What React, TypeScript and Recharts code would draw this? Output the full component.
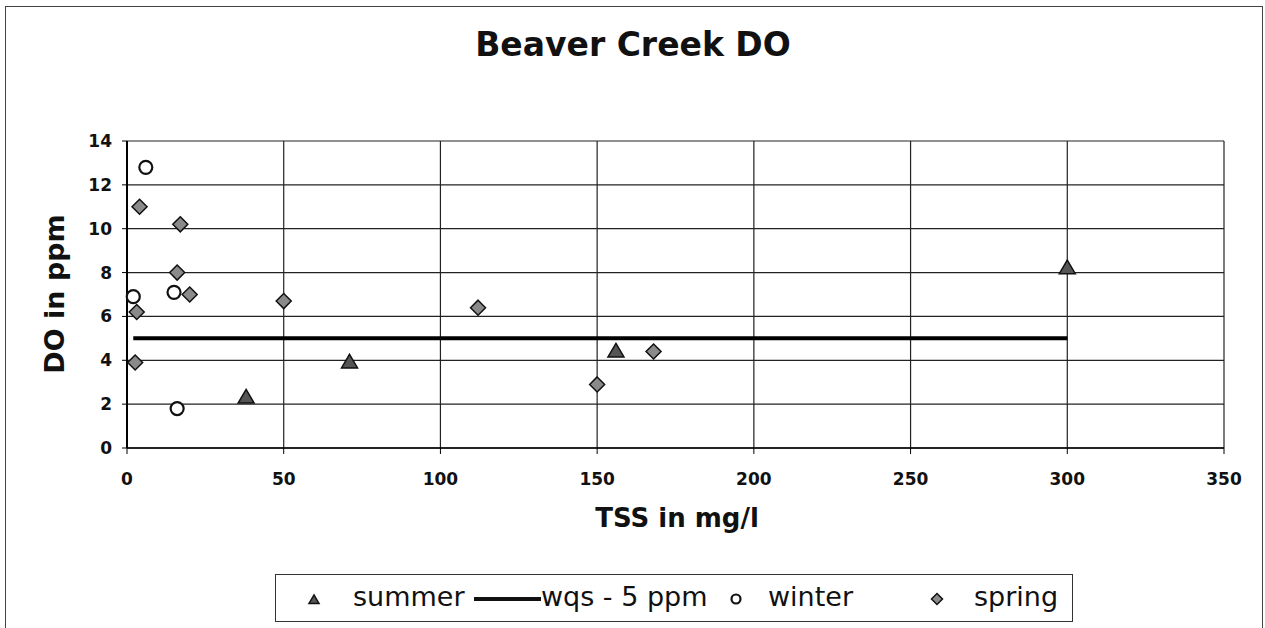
import {
  CartesianGrid,
  Legend,
  Scatter,
  ScatterChart,
  XAxis,
  YAxis,
} from "recharts";

const summerTss = [38, 71, 156, 300];
const summerDo = [2.3, 3.9, 4.4, 8.2];

const winterTss = [2, 6, 15, 16];
const winterDo = [6.9, 12.8, 7.1, 1.8];

const springTss = [4, 17, 16, 20, 3.1, 2.6, 50, 112, 150, 168];
const springDo = [11, 10.2, 8, 7, 6.2, 3.9, 6.7, 6.4, 2.9, 4.4];

const wqsTss = [2, 300];
const wqsDo = [5, 5];

const xTicks = [0, 50, 100, 150, 200, 250, 300, 350];
const yTicks = [0, 2, 4, 6, 8, 10, 12, 14];

const toPoints = (xs: number[], ys: number[]) =>
  xs.map((x, i) => ({ tss: x, do: ys[i] }));

const FONT = "'DejaVu Sans', 'Liberation Sans', Arial, sans-serif";

function Triangle({ cx, cy, r = 8 }: any) {
  const h = r * 1.7;
  return (
    <path
      d={`M${cx},${cy - h * 0.6} L${cx + r},${cy + h * 0.4} L${cx - r},${cy + h * 0.4} Z`}
      fill="#555"
      stroke="#111"
      strokeWidth={1.5}
    />
  );
}

function Circle({ cx, cy, r = 6.5 }: any) {
  return <circle cx={cx} cy={cy} r={r} fill="#fff" stroke="#111" strokeWidth={2.2} />;
}

function Diamond({ cx, cy, r = 7.5 }: any) {
  return (
    <path
      d={`M${cx},${cy - r} L${cx + r},${cy} L${cx},${cy + r} L${cx - r},${cy} Z`}
      fill="#8a8a8a"
      stroke="#111"
      strokeWidth={1.5}
    />
  );
}

function LegendBox() {
  const text = { position: "absolute" as const, fontSize: 27, fontFamily: FONT, color: "#111", top: 6 };
  return (
    <div
      style={{
        position: "relative",
        width: 798,
        height: 48,
        border: "1px solid #333",
        boxSizing: "border-box",
        background: "#fff",
      }}
    >
      <svg width={798} height={48} style={{ position: "absolute", left: 0, top: 0 }}>
        <Triangle cx={38} cy={25} r={5} />
        <line x1={198} y1={24} x2={265} y2={24} stroke="#111" strokeWidth={4} />
        <Circle cx={460} cy={24} r={4.5} />
        <Diamond cx={661} cy={24} r={5.5} />
      </svg>
      <span style={{ ...text, left: 77 }}>summer</span>
      <span style={{ ...text, left: 265 }}>wqs - 5 ppm</span>
      <span style={{ ...text, left: 492 }}>winter</span>
      <span style={{ ...text, left: 698 }}>spring</span>
    </div>
  );
}

export default function App() {
  const tick = { fontSize: 17, fontWeight: 700, fill: "#111", fontFamily: FONT };

  return (
    <div
      style={{
        position: "absolute",
        left: 0,
        top: 0,
        width: 1265,
        height: 628,
        background: "#fff",
        overflow: "hidden",
      }}
    >
      <ScatterChart
        width={1265}
        height={628}
        margin={{ top: 141, right: 41, bottom: 92, left: 67 }}
      >
        <CartesianGrid stroke="#222" strokeWidth={1.2} />
        <XAxis
          type="number"
          dataKey="tss"
          domain={[0, 350]}
          ticks={xTicks}
          height={40}
          tickSize={6}
          tickMargin={19}
          tick={tick}
          axisLine={{ stroke: "#000", strokeWidth: 1.5 }}
          tickLine={{ stroke: "#000" }}
        />
        <YAxis
          type="number"
          dataKey="do"
          domain={[0, 14]}
          ticks={yTicks}
          width={60}
          tickSize={5}
          tickMargin={10}
          tick={tick}
          axisLine={{ stroke: "#000", strokeWidth: 2 }}
          tickLine={{ stroke: "#000" }}
        />
        <Scatter
          name="wqs - 5 ppm"
          data={toPoints(wqsTss, wqsDo)}
          line={{ stroke: "#000", strokeWidth: 4 }}
          shape={() => <g />}
          isAnimationActive={false}
        />
        <Scatter
          name="summer"
          data={toPoints(summerTss, summerDo)}
          shape={(p: any) => <Triangle cx={p.cx} cy={p.cy} />}
          isAnimationActive={false}
        />
        <Scatter
          name="winter"
          data={toPoints(winterTss, winterDo)}
          shape={(p: any) => <Circle cx={p.cx} cy={p.cy} />}
          isAnimationActive={false}
        />
        <Scatter
          name="spring"
          data={toPoints(springTss, springDo)}
          shape={(p: any) => <Diamond cx={p.cx} cy={p.cy} />}
          isAnimationActive={false}
        />
        <Legend
          content={() => <LegendBox />}
          wrapperStyle={{ position: "absolute", left: 275, top: 574, width: 798, height: 48, bottom: "auto" }}
        />
      </ScatterChart>
      <svg
        width={1265}
        height={628}
        style={{ position: "absolute", left: 0, top: 0, pointerEvents: "none" }}
      >
        <rect x={5.5} y={6.5} width={1257} height={660} fill="none" stroke="#444" strokeWidth={1} />
        <text x={633} y={56} textAnchor="middle" fontSize={33} fontWeight={700} fontFamily={FONT} fill="#111">
          Beaver Creek DO
        </text>
        <text x={677} y={527} textAnchor="middle" fontSize={26} fontWeight={700} fontFamily={FONT} fill="#111">
          TSS in mg/l
        </text>
        <text
          transform="translate(64,294) rotate(-90)"
          textAnchor="middle"
          fontSize={27}
          fontWeight={700}
          fontFamily={FONT}
          fill="#111"
        >
          DO in ppm
        </text>
      </svg>
    </div>
  );
}
